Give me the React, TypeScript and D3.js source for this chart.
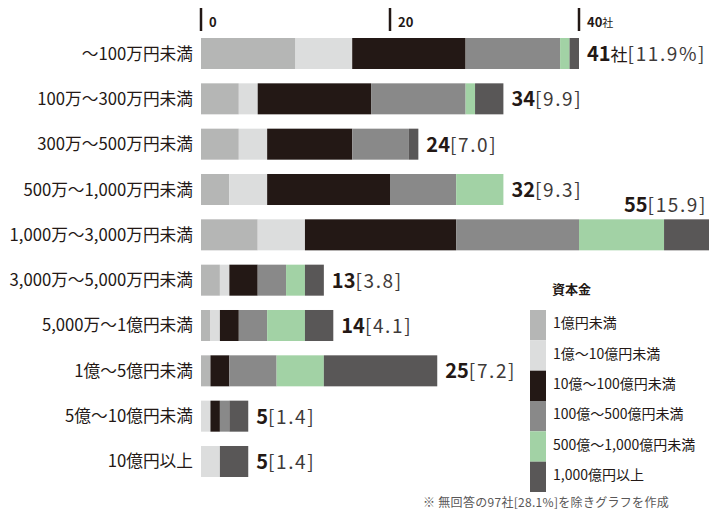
import React from "react";
import * as d3 from "d3";

const categories = [
  "～100万円未満",
  "100万～300万円未満",
  "300万～500万円未満",
  "500万～1,000万円未満",
  "1,000万～3,000万円未満",
  "3,000万～5,000万円未満",
  "5,000万～1億円未満",
  "1億～5億円未満",
  "5億～10億円未満",
  "10億円以上",
];
const seriesNames = [
  "1億円未満",
  "1億～10億円未満",
  "10億～100億円未満",
  "100億～500億円未満",
  "500億～1,000億円未満",
  "1,000億円以上",
];
const seriesColors = ["#b5b6b5", "#dcdddd", "#231815", "#898989", "#a2d2a5", "#595757"];
// values per category, in series order
const s1 = [10, 4, 4, 3, 6, 2, 1, 1, 0, 0];
const s2 = [6, 2, 3, 4, 5, 1, 1, 0, 1, 2];
const s3 = [12, 12, 9, 13, 16, 3, 2, 2, 1, 0];
const s4 = [10, 10, 6, 7, 13, 3, 3, 5, 1, 0];
const s5 = [1, 1, 0, 5, 9, 2, 4, 5, 0, 0];
const s6 = [1, 3, 1, 0, 6, 2, 3, 12, 2, 3];
const totals = [41, 34, 24, 32, 55, 13, 14, 25, 5, 5];
const percents = ["11.9", "9.9", "7.0", "9.3", "15.9", "3.8", "4.1", "7.2", "1.4", "1.4"];
const tickValues = [0, 20, 40];

const W = 709;
const H = 512;
const FONT = "'Noto Sans CJK JP', 'Noto Sans', sans-serif";

export default function App() {
  const series = [s1, s2, s3, s4, s5, s6];
  const rows = categories.map((c, i) => {
    const obj: any = { cat: c };
    seriesNames.forEach((n, k) => (obj[n] = series[k][i]));
    return obj;
  });
  const stacked = d3.stack().keys(seriesNames)(rows);

  const x = d3.scaleLinear().domain([0, 40]).range([201, 579]);
  const y = d3
    .scaleBand<string>()
    .domain(categories)
    .range([38, 477])
    .paddingInner(0.316)
    .paddingOuter(0);
  const bw = y.bandwidth();

  const legendY = d3
    .scaleBand<string>()
    .domain(seriesNames)
    .range([310, 492]);

  return (
    <svg
      width={W}
      height={H}
      style={{ position: "absolute", left: 0, top: 0, fontFamily: FONT }}
    >
      <rect width={W} height={H} fill="#ffffff" />
      {/* top axis */}
      {tickValues.map((t) => (
        <g key={t}>
          <line x1={x(t)} x2={x(t)} y1={8} y2={31} stroke="#231815" strokeWidth={2.5} />
          <text x={x(t) + 8} y={27} fontSize={13} fontWeight={700} fill="#231815">
            {t}
            {t === 40 ? (
              <tspan fontWeight={400} fontSize={11}>
                社
              </tspan>
            ) : null}
          </text>
        </g>
      ))}
      {/* bars */}
      {stacked.map((layer, k) => (
        <g key={layer.key} fill={seriesColors[k]}>
          {layer.map((d, i) =>
            d[1] - d[0] > 0 ? (
              <rect
                key={i}
                x={x(d[0])}
                width={x(d[1]) - x(d[0])}
                y={y(categories[i])}
                height={bw}
              />
            ) : null
          )}
        </g>
      ))}
      {/* category labels */}
      {categories.map((c) => (
        <text
          key={c}
          x={193}
          y={(y(c) as number) + bw / 2 + 6}
          textAnchor="end"
          fontSize={16.7}
          fill="#231815"
        >
          {c}
        </text>
      ))}
      {/* value labels */}
      {categories.map((c, i) => {
        const end = x(stacked[stacked.length - 1][i][1]);
        const above = totals[i] === 55;
        const yy = above ? (y(c) as number) - 7 : (y(c) as number) + bw / 2 + 7.5;
        return (
          <text
            key={c}
            x={above ? 707 : end + 8}
            y={yy}
            textAnchor={above ? "end" : "start"}
            fontSize={19}
            fill="#231815"
          >
            <tspan fontWeight={700} fontSize={20}>
              {totals[i]}
            </tspan>
            {i === 0 ? <tspan fontSize={17}>社</tspan> : null}
            <tspan fill="#3e3a39" letterSpacing={1.6}>
              [{percents[i]}
              {i === 0 ? "%" : ""}]
            </tspan>
          </text>
        );
      })}
      {/* legend */}
      <text x={552} y={294} fontSize={13} fontWeight={700} fill="#231815">
        資本金
      </text>
      {seriesNames.map((n, k) => (
        <g key={n}>
          <rect
            x={530}
            y={legendY(n)}
            width={16}
            height={legendY.bandwidth()}
            fill={seriesColors[k]}
          />
          <text
            x={553}
            y={(legendY(n) as number) + legendY.bandwidth() / 2 + 3}
            fontSize={14}
            fill="#231815"
          >
            {n}
          </text>
        </g>
      ))}
      {/* footnote */}
      <text x={423} y={507} fontSize={12} fill="#595757" letterSpacing={0.3}>
        ※ 無回答の97社[28.1%]を除きグラフを作成
      </text>
    </svg>
  );
}
